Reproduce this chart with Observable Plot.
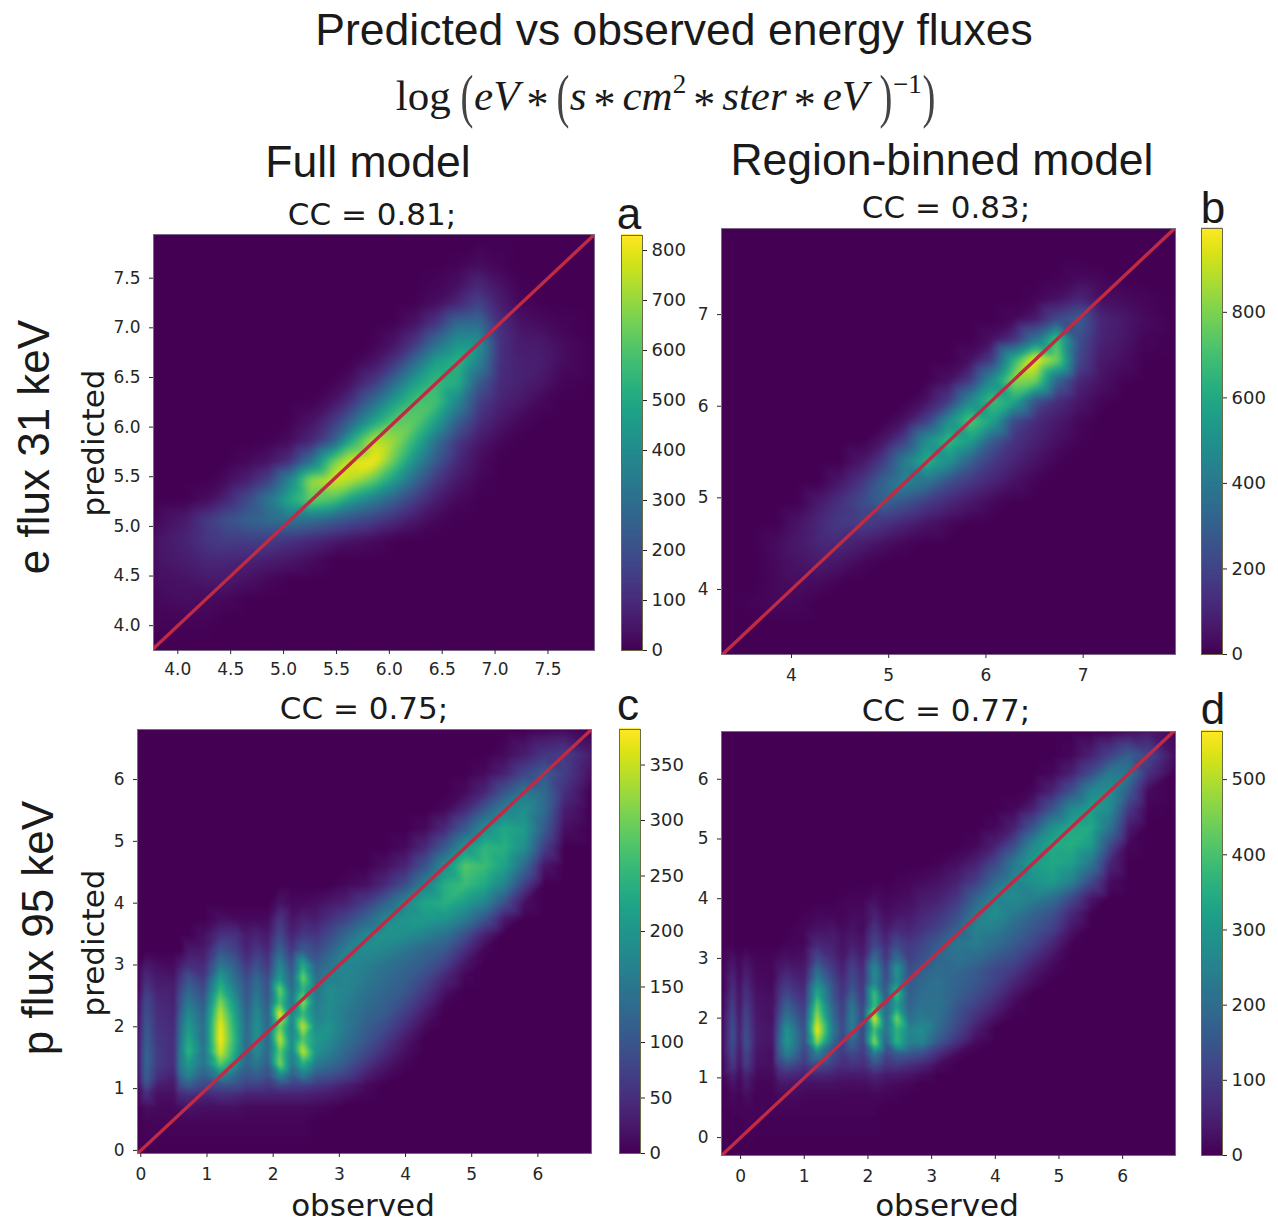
<!DOCTYPE html>
<html><head><meta charset="utf-8">
<script src="https://cdn.jsdelivr.net/npm/d3@7"></script>
<script src="https://cdn.jsdelivr.net/npm/@observablehq/plot@0.6"></script>
<style>
html,body{margin:0;padding:0;background:#fff}
#root{position:relative;width:1278px;height:1221px;overflow:hidden}
#root svg{position:absolute;overflow:visible;background:transparent}
.t{position:absolute;white-space:nowrap;transform:translate(-50%,-50%);color:#1a1a1a;line-height:1}
.sans{font-family:"Liberation Sans",sans-serif}
.dv{font-family:"DejaVu Sans",sans-serif}
.rot{transform:translate(-50%,-50%) rotate(-90deg)}
.f{font-family:"Liberation Serif",serif;font-size:43px}
.f sup{font-size:27px;line-height:0;vertical-align:baseline;position:relative;top:-17px}
.p{display:inline-block;transform:scale(.9,1.38);font-weight:400;color:#444}
.s{position:relative;top:9px;font-size:44px;margin:0 7px}
</style></head><body><div id="root"></div>
<script>
// Panel a: e flux 31 keV, full model. Rows run top to bottom; each row is [first column index, values...].
const aX=[3.77,4.07,4.27,4.46,4.66,4.86,5.06,5.26,5.46,5.65,5.85,6.05,6.25,6.45,6.65,6.85,7.04,7.24,7.44,7.64,7.94];
const aY=[7.94,7.64,7.44,7.24,7.04,6.85,6.65,6.45,6.25,6.05,5.85,5.65,5.46,5.26,5.06,4.86,4.66,4.46,4.27,4.07,3.75];
const aRows=[[0],[14,5,25,10],[13,10,30,90,40,5],[12,5,30,90,170,70,15,5],[11,5,40,130,290,300,110,40,25,10],
[10,5,40,130,300,430,420,120,60,55,25],[9,5,40,130,300,480,540,370,110,75,65,25],[8,5,40,130,290,470,560,520,230,100,75,50,10],
[7,5,40,130,290,470,590,580,380,150,80,50,15],[6,5,40,130,280,480,620,620,460,240,100,50,15],[5,5,25,90,240,530,760,700,520,290,130,50,15],
[4,15,40,110,310,630,800,825,620,400,220,90,25],[3,25,70,160,390,710,780,730,620,450,270,130,50,10],
[2,25,90,190,330,510,640,590,440,340,240,140,60,15],[0,15,60,140,210,260,290,320,290,240,190,150,100,50,15],
[0,40,80,130,150,150,150,120,90,60,35,20],[0,40,65,90,90,80,65,50,25],[0,30,40,55,55,35,15],[0,20,30,25,15],[0,10,10,10],[0]];
const aTicksX=[4,4.5,5,5.5,6,6.5,7,7.5], aTicksY=[4,4.5,5,5.5,6,6.5,7,7.5], aBar=[0,100,200,300,400,500,600,700,800];

// Panel b: e flux 31 keV, region-binned model.
const bX=[3.28,3.61,3.84,4.06,4.28,4.5,4.73,4.95,5.17,5.39,5.62,5.84,6.06,6.28,6.51,6.73,6.95,7.17,7.4,7.62,7.95];
const bY=[7.94,7.62,7.4,7.17,6.95,6.73,6.51,6.28,6.06,5.84,5.62,5.39,5.17,4.95,4.73,4.5,4.28,4.06,3.84,3.61,3.29];
const bRows=[[0],[0],[15,5,25,15],[14,10,40,100,40,30,15],[13,20,70,220,300,110,70,30],[12,40,130,380,720,250,100,60,15],
[11,40,170,620,996,800,220,70,40,5],[10,40,170,480,820,790,320,110,50,10],[9,45,170,470,690,600,260,130,60,15],[8,50,190,500,730,580,230,120,70,20],
[7,60,200,500,670,560,290,150,90,40,10],[6,60,190,430,630,500,300,170,100,45,10],[5,60,160,320,450,380,240,160,100,45,10],[4,70,140,230,310,250,170,110,60,20],
[3,50,110,170,190,150,100,55,20],[2,30,65,105,110,75,40,15],[2,25,50,70,50,15],[2,20,35,25,5],[1,10,20,15],[0],[0]];
const bTicksX=[4,5,6,7], bTicksY=[4,5,6,7], bBar=[0,200,400,600,800];

// Panel c: p flux 95 keV, full model.
const cX=[-.05,.08,.25,.4,.5,.6,.72,.95,1.2,1.45,1.6,1.75,1.92,2.1,2.28,2.45,2.65,2.85,3.1,3.4,3.7,4,4.3,4.6,4.9,5.2,5.5,5.8,6.1,6.4,6.81];
const cY=[6.81,6.4,6.1,5.8,5.5,5.2,4.9,4.6,4.3,4,3.75,3.5,3.25,3,2.8,2.6,2.4,2.2,2,1.8,1.6,1.4,1.2,1.05,.9,.7,.45,-.05];
const cRows=[[28,5,10],[26,10,30,60,70,30],[25,10,35,80,110,70,15],[24,10,40,100,150,130,50],[23,10,45,110,170,190,130,30],
[22,10,45,110,190,230,210,110,15],[21,10,45,110,200,250,240,190,70],[20,15,40,100,190,280,260,220,130,20],[18,8,15,45,90,170,240,260,230,170,70],
[13,20,8,10,15,25,35,70,120,180,225,240,210,170,90,15],[8,15,10,8,8,10,60,20,35,30,50,75,120,175,200,210,200,160,100,25],
[7,15,50,50,25,35,25,85,35,60,55,85,125,175,195,190,170,145,95,35],[6,25,25,95,70,35,60,40,120,60,105,85,115,165,185,175,150,125,105,50,5],
[1,25,15,10,10,30,50,45,150,105,60,95,60,180,95,235,115,145,175,165,145,125,105,70,20],
[1,45,25,25,20,60,95,60,210,125,85,125,85,210,115,300,135,165,175,155,135,115,85,40,5],
[1,65,35,35,30,80,125,85,255,155,95,145,95,300,135,250,145,185,175,145,125,105,65,20],
[0,10,85,45,40,35,100,155,105,310,185,105,165,105,270,145,320,155,185,165,135,115,85,45,5],
[0,15,95,50,45,40,120,185,125,350,205,115,185,115,375,165,260,165,185,155,125,105,65,25],
[0,15,105,55,50,45,140,210,135,375,220,125,195,125,300,165,350,185,195,155,115,85,45,10],
[0,20,115,60,55,50,150,230,135,382,230,125,195,125,350,175,280,205,185,145,105,65,25],
[0,20,125,65,55,50,160,250,145,360,215,125,185,125,290,165,350,195,165,125,85,45,15],
[0,20,125,65,55,50,160,210,145,285,185,125,155,115,310,155,240,155,135,105,60,25,5],
[0,15,120,50,40,35,130,170,110,170,120,100,110,90,170,110,150,100,90,70,30,10],
[0,10,90,30,25,25,90,110,80,90,90,70,70,60,80,70,70,60,50,30,10],
[0,5,50,15,15,15,45,50,40,50,45,35,35,35,35,35,35,30,25,15,5],
[1,15,10,8,8,15,20,15,15,15,10,10,10,10,10,10,8,5],[1,5,5,5,5,5,5,5,5,5,5,5,5,5,5,5],[0]];
const cTicksX=[0,1,2,3,4,5,6], cTicksY=[0,1,2,3,4,5,6], cBar=[0,50,100,150,200,250,300,350];

// Panel d: p flux 95 keV, region-binned model.
const dX=[-.3,-.12,-.02,.08,.25,.5,.6,.72,.85,1,1.2,1.45,1.6,1.75,1.92,2.1,2.28,2.45,2.65,2.85,3.1,3.4,3.7,4,4.3,4.6,4.9,5.2,5.5,5.8,6.1,6.4,6.83];
const dY=[6.8,6.4,6.1,5.8,5.5,5.2,4.9,4.6,4.3,4,3.75,3.5,3.25,3,2.8,2.6,2.4,2.2,2,1.8,1.6,1.4,1.2,1.05,.9,.7,.45,-.3];
const dRows=[[29,5,20,40,15],[27,10,50,110,170,120,20],[26,10,50,130,230,220,80],[25,10,55,140,260,280,160,15],[24,10,55,150,270,320,270,90,5],
[23,10,50,150,280,340,340,220,40],[22,10,50,130,270,340,350,310,130,10],[20,5,20,50,120,230,310,340,320,230,60],
[17,5,8,15,25,50,100,190,260,290,310,250,130,20],[12,5,8,8,20,10,15,20,40,50,90,180,260,270,240,200,120,35],
[9,5,10,8,8,15,15,50,20,30,35,60,80,130,230,280,230,180,140,60,5],[8,5,10,25,30,15,25,15,85,35,65,55,80,110,170,250,240,190,150,110,30],
[7,5,8,10,60,50,25,45,30,120,60,125,90,115,160,220,240,200,160,120,60,5],
[1,25,8,25,8,8,20,25,20,25,125,70,35,85,50,200,85,200,105,140,185,215,195,155,125,70,25],
[1,45,12,45,12,10,35,55,40,40,200,100,50,115,70,280,115,300,135,170,200,190,160,120,90,40,10],
[1,65,18,65,18,12,55,85,65,55,270,130,70,135,80,270,135,280,155,190,210,180,150,110,60,20],
[1,85,25,85,25,18,75,125,95,75,350,150,80,175,90,400,155,390,165,200,205,170,130,85,30],
[1,105,30,105,30,25,95,175,135,95,430,180,100,225,110,390,185,320,175,215,215,150,105,55,10],
[0,8,125,35,125,35,25,125,225,175,115,490,200,110,245,120,540,195,450,205,235,205,135,75,25],
[0,10,135,45,135,40,30,155,295,225,135,560,230,120,235,110,400,205,370,255,275,195,115,40],
[0,10,135,45,145,40,30,175,305,235,135,470,190,110,185,110,470,175,370,245,255,155,75,15],
[0,8,120,35,120,30,20,160,240,190,110,240,130,90,120,90,230,120,160,150,130,70,15],
[0,5,90,25,100,25,20,100,130,110,80,120,90,70,80,70,130,80,90,70,50,15],
[0,5,50,15,60,15,15,60,70,60,50,60,50,40,40,40,60,40,40,30,15],
[1,30,8,40,8,8,30,35,30,25,25,25,20,20,20,30,20,15,10],[1,15,5,20,5,5,15,15,15,10,10,10,10,8,8,10,8,5],
[1,5,5,8,5,5,5,5,5,5,5,5,5,5,5,5],[0]];
const dTicksX=[0,1,2,3,4,5,6], dTicksY=[0,1,2,3,4,5,6], dBar=[0,100,200,300,400,500];

const root=document.getElementById("root");
const FONT="DejaVu Sans";
const INK="#262626";

function table(xs,ys,rows){
  const out=[];
  ys.forEach((y,r)=>{
    const row=rows[r], start=row[0];
    xs.forEach((x,c)=>{
      const i=c-start+1;
      const v=(c>=start && i<row.length)?row[i]:0;
      out.push({x,y,v});
    });
  });
  return out;
}

function panel(o){
  const mL=50,mB=34,mT=4,mR=6;
  const w=o.box[1]-o.box[0], h=o.box[3]-o.box[2];
  const xd=[o.xs[0],o.xs[o.xs.length-1]], yd=[o.ys[o.ys.length-1],o.ys[0]];
  const fmt=o.fmt;
  const diag=[Math.min(xd[0],yd[0]),Math.max(xd[1],yd[1])];
  const p=Plot.plot({
    width:w+mL+mR,height:h+mT+mB,marginLeft:mL,marginRight:mR,marginTop:mT,marginBottom:mB,
    style:{fontFamily:FONT,fontSize:"17px",color:INK,background:"transparent"},
    x:{domain:xd,label:null},y:{domain:yd,label:null},
    color:{type:"linear",scheme:"viridis",domain:[0,o.max]},
    marks:[
      Plot.frame({fill:"#440154"}),
      Plot.raster(table(o.xs,o.ys,o.rows),{x:"x",y:"y",fill:"v",interpolate:"barycentric",pixelSize:1,clip:true}),
      Plot.line(diag.map(d=>({x:d,y:d})),{x:"x",y:"y",stroke:"#bf2a45",strokeWidth:3.4,clip:true}),
      Plot.frame({stroke:"#7a6a88",strokeWidth:1}),
      Plot.axisX({ticks:o.tx,tickFormat:fmt,tickSize:4,tickPadding:o.padX,label:null,fontSize:17,stroke:INK}),
      Plot.axisY({ticks:o.ty,tickFormat:fmt,tickSize:4,tickPadding:9,label:null,fontSize:17,stroke:INK})
    ]
  });
  p.querySelector("image").style.filter=`blur(${o.blur}px)`;
  p.style.left=(o.box[0]-mL)+"px"; p.style.top=(o.box[2]-mT)+"px";
  root.appendChild(p);
}

function colorbar(o){
  const mL=2,mR=60,mT=2,mB=10;
  const w=o.bar[1]-o.bar[0], h=o.bar[3]-o.bar[2];
  const levels=d3.range(0,o.max,o.max/256);
  const step=o.max/256;
  const p=Plot.plot({
    width:w+mL+mR,height:h+mT+mB,marginLeft:mL,marginRight:mR,marginTop:mT,marginBottom:mB,
    style:{fontFamily:FONT,fontSize:"18px",color:INK,background:"transparent"},
    x:{domain:[0,1],axis:null},y:{domain:[0,o.max],label:null},
    color:{type:"linear",scheme:"viridis",domain:[0,o.max]},
    marks:[
      Plot.rect(levels,{x1:0,x2:1,y1:d=>d,y2:d=>d+step*1.5,fill:d=>d}),
      Plot.frame({stroke:"#6b6b4a",strokeWidth:1}),
      Plot.axisY({anchor:"right",ticks:o.ticks,tickFormat:d3.format("d"),tickSize:4,tickPadding:5,label:null,fontSize:18,stroke:INK})
    ]
  });
  p.style.left=(o.bar[0]-mL)+"px"; p.style.top=(o.bar[2]-mT)+"px";
  root.appendChild(p);
}

const f1=d3.format(".1f"), f0=d3.format("d");
panel({box:[153,594,234,650],xs:aX,ys:aY,rows:aRows,max:830,tx:aTicksX,ty:aTicksY,fmt:f1,blur:3,padX:8});
panel({box:[721,1175,228,654],xs:bX,ys:bY,rows:bRows,max:996,tx:bTicksX,ty:bTicksY,fmt:f0,blur:2.5,padX:10});
panel({box:[137,591,729,1153],xs:cX,ys:cY,rows:cRows,max:382,tx:cTicksX,ty:cTicksY,fmt:f0,blur:1,padX:10});
panel({box:[721,1175,731,1155],xs:dX,ys:dY,rows:dRows,max:564,tx:dTicksX,ty:dTicksY,fmt:f0,blur:1,padX:10});
colorbar({bar:[621,642,235,650],max:830,ticks:aBar});
colorbar({bar:[1201,1222,228,654],max:996,ticks:bBar});
colorbar({bar:[619,640,729,1153],max:382,ticks:cBar});
colorbar({bar:[1201,1222,731,1155],max:564,ticks:dBar});

function label(text,x,y,size,cls){
  const d=document.createElement("div");
  d.className="t "+cls; d.style.left=x+"px"; d.style.top=y+"px"; d.style.fontSize=size+"px";
  d.innerHTML=text; root.appendChild(d);
}
const star='<span class="s">*</span>';
label("Predicted vs observed energy fluxes",674,30,44.5,"sans");
label(`log<span style="display:inline-block;width:9px"></span><span class="p">(</span><i>eV</i>${star}<span class="p">(</span><i>s</i>${star}<i>cm</i><sup>2</sup>${star}<i>ster</i>${star}<i>eV</i> <span class="p">)</span><sup>−1</sup><span class="p">)</span>`,666,96,43,"f");
label("Full model",368,162,44.5,"sans");
label("Region-binned model",942,160,44.5,"sans");
label("CC = 0.81;",372,214,31,"dv");
label("CC = 0.83;",946,207,31,"dv");
label("CC = 0.75;",364,708,31,"dv");
label("CC = 0.77;",946,710,31,"dv");
label("a",629,214,44,"sans");
label("b",1213,208,44,"sans");
label("c",628,705,44,"sans");
label("d",1213,709,44,"sans");
label("predicted",93,443,31,"dv rot");
label("predicted",93,943,31,"dv rot");
label("e flux 31 keV",34,447,44,"sans rot");
label("p flux 95 keV",38,928,44,"sans rot");
label("observed",363,1205,31,"dv");
label("observed",947,1205,31,"dv");
</script></body></html>
